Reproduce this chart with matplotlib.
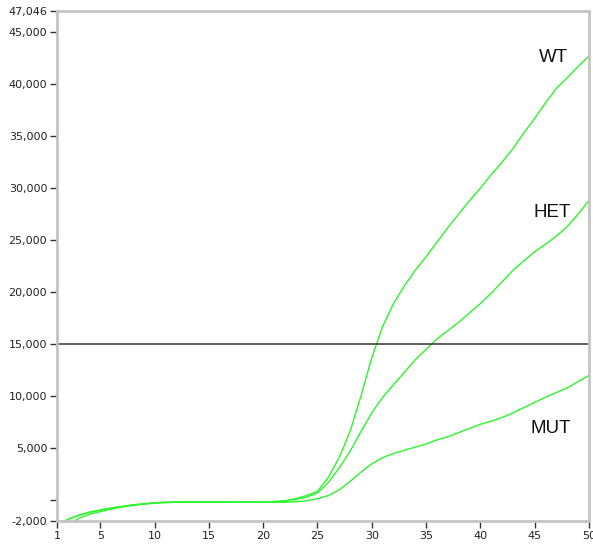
import matplotlib
matplotlib.use("Agg")
import matplotlib.pyplot as plt

# Amplification curves (cycle vs fluorescence)
wt_cycles = [1.8] + list(range(2, 51))
wt_values = [-2000, -1850, -1450, -1150, -950, -750, -600, -450, -350, -250,
             -200, -180, -170, -170, -180, -170, -160, -150, -150, -150,
             -130, -60, 150, 450, 850, 2200, 4100, 6600, 10000, 13700,
             16700, 18900, 20600, 22100, 23400, 24800, 26200, 27500, 28800, 30000,
             31300, 32500, 33800, 35300, 36700, 38200, 39600, 40600, 41700, 42700]

het_cycles = [1.8] + list(range(2, 51))
het_values = [-2000, -1850, -1450, -1150, -950, -750, -600, -450, -350, -250,
              -200, -180, -170, -170, -180, -170, -160, -150, -150, -150,
              -140, -80, 80, 300, 700, 1700, 3100, 4700, 6600, 8400,
              9900, 11100, 12300, 13500, 14500, 15500, 16300, 17100, 18000, 18900,
              19900, 21000, 22100, 23000, 23900, 24600, 25400, 26300, 27500, 28800]

mut_cycles = [2.6] + list(range(3, 51))
mut_values = [-2000, -1750, -1350, -1100, -850, -650, -500, -380, -280,
              -230, -200, -190, -180, -180, -170, -170, -160, -160, -170,
              -190, -200, -150, -50, 150, 450, 1000, 1800, 2700, 3500,
              4100, 4500, 4800, 5100, 5400, 5800, 6100, 6500, 6900, 7300,
              7600, 7950, 8400, 8900, 9400, 9900, 10350, 10800, 11400, 12000]

threshold = 15000

labels = ["WT", "HET", "MUT"]
label_x = [46.7, 46.6, 46.5]
label_y = [42600, 27700, 6900]

x_ticks = [1, 5, 10, 15, 20, 25, 30, 35, 40, 45, 50]
y_ticks = [-2000, 0, 5000, 10000, 15000, 20000, 25000, 30000, 35000, 40000, 45000, 47046]
y_tick_labels = ["-2,000", "", "5,000", "10,000", "15,000", "20,000", "25,000",
                 "30,000", "35,000", "40,000", "45,000", "47,046"]

fig = plt.figure(figsize=(5.93, 5.47), dpi=100)
ax = fig.add_axes([0.096, 0.0475, 0.897, 0.9325])

green = '#2cf52c'
ax.plot(wt_cycles, wt_values, color=green, lw=1.0)
ax.plot(het_cycles, het_values, color=green, lw=1.0)
ax.plot(mut_cycles, mut_values, color=green, lw=1.0)

ax.axhline(threshold, color='#333333', lw=1.1)

for txt, lx, ly in zip(labels, label_x, label_y):
    ax.text(lx, ly, txt, ha='center', va='center', fontsize=13.5,
            family='Liberation Sans', color='#111111')

ax.set_xlim(1, 50)
ax.set_ylim(-2000, 47046)
ax.set_xticks(x_ticks)
ax.set_xticklabels([str(t) for t in x_ticks])
ax.set_yticks(y_ticks)
ax.set_yticklabels(y_tick_labels)

for s in ax.spines.values():
    s.set_color('#c4c4c4')
    s.set_linewidth(2)

ax.tick_params(axis='both', direction='out', length=5, width=1, color='#333333',
               labelsize=8, labelcolor='#222222', pad=2)
for lab in ax.get_xticklabels() + ax.get_yticklabels():
    lab.set_family('DejaVu Sans')

fig.savefig('out.png', dpi=100)
